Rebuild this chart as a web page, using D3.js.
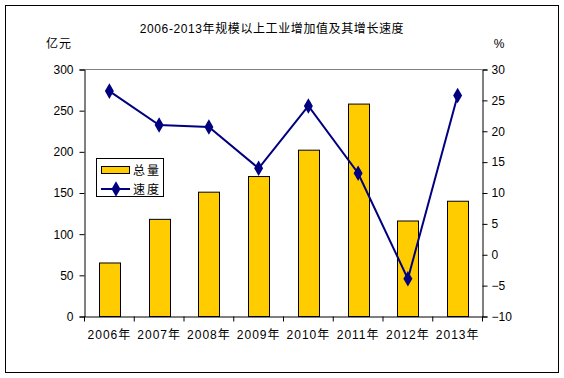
<!DOCTYPE html>
<html><head><meta charset="utf-8">
<script src="https://cdn.jsdelivr.net/npm/d3@7"></script>
<style>body{margin:0;background:#fff}svg{display:block}text{font-family:"Liberation Sans",Arial,"Noto Sans CJK SC",sans-serif;font-size:12px;fill:#000}</style>
</head><body><svg id="c" width="564" height="378"></svg>
<script>
const categories = ["2006年","2007年","2008年","2009年","2010年","2011年","2012年","2013年"];
const totals = [65, 118, 151, 170, 202, 258, 116, 140];
const growth = [26.5, 21.0, 20.7, 14.0, 24.1, 13.2, -3.9, 25.8];
const leftTicks = [0, 50, 100, 150, 200, 250, 300];
const rightTicks = [-10, -5, 0, 5, 10, 15, 20, 25, 30];
const title = "2006-2013年规模以上工业增加值及其增长速度";
const seriesNames = ["总量", "速度"];

const svg = d3.select("#c");
const m = {l:84.5, r:482.5, t:69.5, b:316.5};
svg.append("rect").attr("x",5.5).attr("y",5.5).attr("width",553).attr("height",367).attr("fill","#fff").attr("stroke","#000").attr("stroke-width",1);

const x = d3.scaleBand().domain(categories).range([m.l, m.r]);
const yL = d3.scaleLinear().domain([0,300]).range([m.b, m.t]);
const yR = d3.scaleLinear().domain([-10,30]).range([m.b, m.t]);

svg.append("line").attr("x1",m.l).attr("x2",m.r).attr("y1",m.t).attr("y2",m.t).attr("stroke","#808080");

const bw = 21;
svg.append("g").selectAll("rect").data(totals).join("rect")
  .attr("x",(d,i)=>Math.round(x(categories[i])+x.bandwidth()/2-bw/2)+0.5)
  .attr("y",d=>yL(d)).attr("width",bw).attr("height",d=>yL(0)-yL(d))
  .attr("fill","#FFCC00").attr("stroke","#000").attr("stroke-width",1);

const la = d3.axisLeft(yL).tickValues(leftTicks).tickSize(5).tickPadding(6);
const gL = svg.append("g").attr("transform",`translate(${m.l},0)`).call(la);
const ra = d3.axisRight(yR).tickValues(rightTicks).tickSize(5).tickPadding(4);
const gR = svg.append("g").attr("transform",`translate(${m.r},0)`).call(ra);
const ba = d3.axisBottom(x).tickSize(0).tickPadding(14);
const gB = svg.append("g").attr("transform",`translate(0,${m.b})`).call(ba);
gB.selectAll("text").style("letter-spacing","1px");
svg.append("g").selectAll("line").data(d3.range(categories.length+1)).join("line")
  .attr("x1",i=>m.l+i*x.step()).attr("x2",i=>m.l+i*x.step())
  .attr("y1",m.b).attr("y2",m.b+5).attr("stroke","#000");
[gL,gR,gB].forEach(g=>{g.select(".domain").attr("stroke","#000");g.selectAll(".tick line").attr("stroke","#000");g.selectAll("text").style("font-size","12px").attr("font-family",null);});

const cx = (i)=>x(categories[i])+x.bandwidth()/2;
const line = d3.line().x((d,i)=>cx(i)).y(d=>yR(d));
svg.append("path").datum(growth).attr("d",line).attr("fill","none").attr("stroke","#000080").attr("stroke-width",2);
const dia = d3.symbol().type(d3.symbolDiamond).size(70);
svg.append("g").selectAll("path").data(growth).join("path")
  .attr("transform",(d,i)=>`translate(${cx(i)},${yR(d)})`).attr("d",dia).attr("fill","#000080");

svg.append("text").attr("x",272).attr("y",33).attr("text-anchor","middle").style("font-size","12px").style("letter-spacing","0.6px").text(title);
svg.append("text").attr("x",59).attr("y",48).attr("text-anchor","middle").style("letter-spacing","1px").text("亿元");
svg.append("text").attr("x",499).attr("y",48).attr("text-anchor","middle").text("%");

const lg = svg.append("g");
lg.append("rect").attr("x",96.5).attr("y",158.5).attr("width",67).attr("height",38).attr("fill","#fff").attr("stroke","#000");
lg.append("rect").attr("x",101.5).attr("y",166.5).attr("width",28).attr("height",7).attr("fill","#FFCC00").attr("stroke","#000");
lg.append("text").attr("x",133).attr("y",175).style("letter-spacing","2px").text(seriesNames[0]);
lg.append("line").attr("x1",101).attr("x2",130).attr("y1",189).attr("y2",189).attr("stroke","#000080").attr("stroke-width",2);
lg.append("path").attr("transform","translate(116,189)").attr("d",dia).attr("fill","#000080");
lg.append("text").attr("x",133).attr("y",194).style("letter-spacing","2px").text(seriesNames[1]);
</script></body></html>
